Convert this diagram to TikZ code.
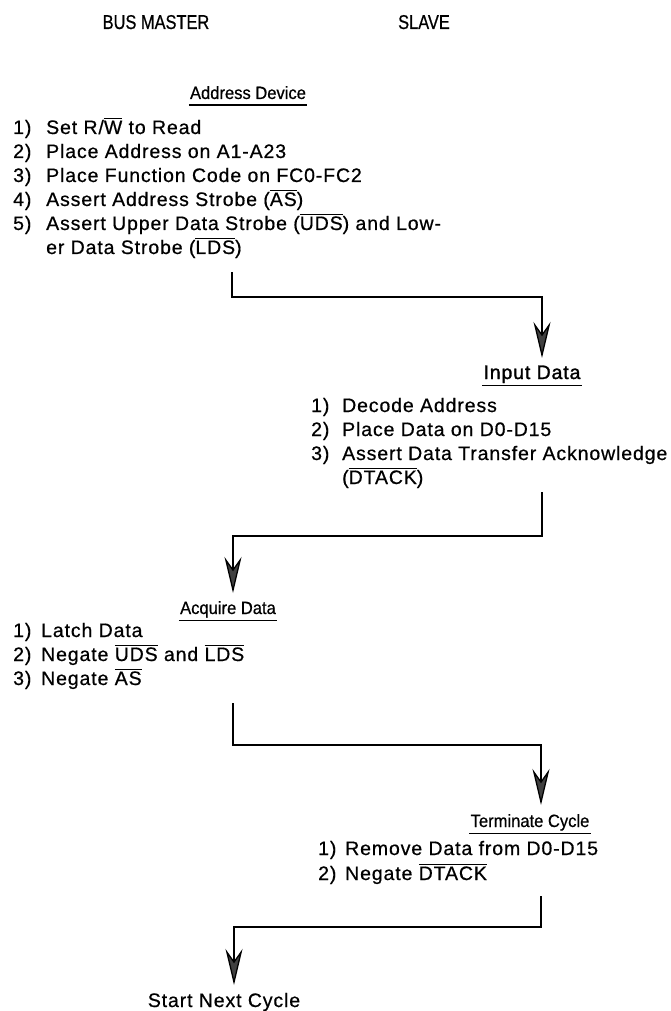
\documentclass[tikz,border=0pt]{standalone}
\usepackage{fontspec}
\setmainfont{Liberation Sans}[FakeBold=0.5]
\newfontfamily\titlefont{Liberation Sans}[FakeStretch=0.93,FakeBold=0.6]
\newfontfamily\listfont{Liberation Sans}[LetterSpace=4.5,FakeBold=0.6]
\newfontfamily\boldlist{Liberation Sans}[LetterSpace=4.5,FakeBold=1.4]
\newfontfamily\headfont{Liberation Sans}[FakeStretch=0.82,FakeBold=0.6]
\usetikzlibrary{arrows.meta}
% active-low signal name
\newcommand\sig[1]{\leavevmode\vbox{\hrule height .8pt\kern 1.6pt\hbox{#1}}}

\begin{document}
\begin{tikzpicture}[x=1pt,y=-1pt,
  head/.style={anchor=base,inner sep=0pt,font=\headfont\fontsize{20}{24}\selectfont},
  title/.style={anchor=base,inner xsep=1pt,inner ysep=0pt,text depth=6pt,font=\titlefont\fontsize{17.8}{20}\selectfont},
  steps/.style={anchor=base west,inner sep=0pt,font=\listfont\fontsize{19.5}{24}\selectfont},
  uline/.style={line width=1.4pt},
  flow/.style={line width=1.3pt,-{Stealth[length=36pt,width=17pt,inset=12pt,fill=black!75]}}]
\useasboundingbox (0,0) rectangle (671,1011);
\node[head] (master) at (156,29) {BUS MASTER};
\node[head] (slave) at (424,29) {SLAVE};
% address device
\node[title] (addr) at (248,99) {Address Device};
\node[steps] (addrlist) at (13,134) {\begin{tabular}[t]{@{}p{33pt}@{}l@{}}
1) & Set R/\sig{W} to Read\\
2) & Place Address on A1-A23\\
3) & Place Function Code on FC0-FC2\\
4) & Assert Address Strobe (\sig{AS})\\
5) & Assert Upper Data Strobe (\sig{UDS}) and Low-\\
   & er Data Strobe (\sig{LDS})
\end{tabular}};
% input data
\node[title,font=\boldlist\fontsize{19.5}{24}\selectfont] (input) at (532,379) {Input Data};
\node[steps] (inputlist) at (311,412) {\begin{tabular}[t]{@{}p{31pt}@{}l@{}}
1) & Decode Address\\
2) & Place Data on D0-D15\\
3) & Assert Data Transfer Acknowledge\\
   & (\sig{DTACK})
\end{tabular}};
% acquire data
\node[title] (acquire) at (228,614) {Acquire Data};
\node[steps] (acqlist) at (13,637) {\begin{tabular}[t]{@{}p{28pt}@{}l@{}}
1) & Latch Data\\
2) & Negate \sig{UDS} and \sig{LDS}\\
3) & Negate \sig{AS}
\end{tabular}};
% terminate cycle
\node[title] (term) at (530,827) {Terminate Cycle};
\node[steps] (termlist) at (318,855) {\begin{tabular}[t]{@{}p{27pt}@{}l@{}}
1) & Remove Data from D0-D15\\[1pt]
2) & Negate \sig{DTACK}
\end{tabular}};
\node[steps,anchor=base] (next) at (224,1007) {Start Next Cycle};
\foreach \n in {addr,input,acquire,term}
  \draw[uline] (\n.south west) -- (\n.south east);
\coordinate (a1) at (232,272); \coordinate (t1) at (542,358);
\coordinate (a2) at (542,492); \coordinate (t2) at (233,593);
\coordinate (a3) at (233,703); \coordinate (t3) at (541,805);
\coordinate (a4) at (541,896); \coordinate (t4) at (234,985);
\draw[flow] (a1) -- ++(0,25) -| (t1);
\draw[flow] (a2) -- ++(0,44) -| (t2);
\draw[flow] (a3) -- ++(0,42) -| (t3);
\draw[flow] (a4) -- ++(0,31) -| (t4);
\end{tikzpicture}
\end{document}
